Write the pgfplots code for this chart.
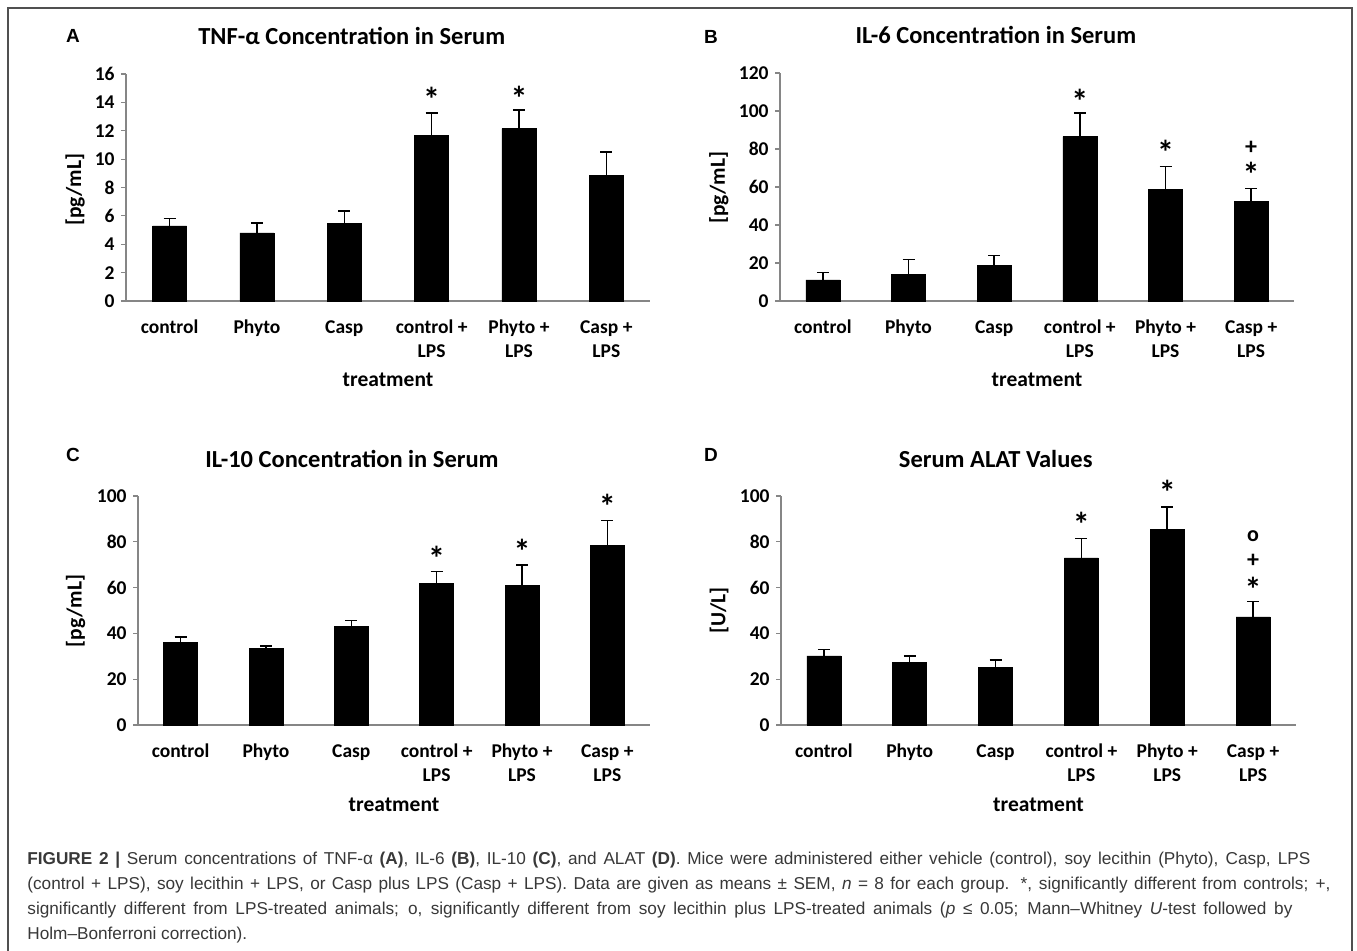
\documentclass[border=0pt]{standalone}
\usepackage{fontspec}
\setmainfont{Carlito}
\newfontfamily\capfont{Liberation Sans}
\usepackage{pgfplots}
\pgfplotsset{compat=1.18}

\definecolor{axisgray}{HTML}{868686}
\definecolor{framegray}{HTML}{505050}
\definecolor{captext}{HTML}{383838}

\newcommand\tickfont{\fontsize{9.75}{12}\selectfont\bfseries}
\newcommand\titlefont{\fontsize{12.25}{14}\selectfont\bfseries}
\newcommand\labfont{\fontsize{10.75}{13}\selectfont\bfseries}
\newcommand\fl{\rule{0pt}{8pt}}

\pgfplotsset{
  panel/.style={
    scale only axis,
    anchor=south west,
    axis lines*=left,
    axis line style={-, draw=axisgray, line width=0.6pt},
    xmin=-0.5, xmax=5.5, ymin=0,
    clip=false,
    xtick={0,...,5},
    xticklabels={\fl control, \fl Phyto, \fl Casp, {\fl control +\\LPS}, {\fl Phyto +\\LPS}, {\fl Casp +\\LPS}},
    tick align=outside,
    major tick length=2.5pt,
    xtick style={draw=none},
    ytick style={draw=axisgray, line width=0.6pt},
    xticklabel style={align=center, anchor=north, inner sep=0pt, yshift=-5.5pt, font=\tickfont},
    yticklabel style={anchor=east, inner sep=0pt, xshift=-3pt, font=\tickfont},
    /pgf/number format/assume math mode=true,
    every axis title shift=0pt,
    title style={anchor=center, font=\titlefont},
    xlabel={treatment},
    xlabel style={at={(axis description cs:0.5,-0.347)}, anchor=center, font=\labfont},
    ylabel style={anchor=center, font=\labfont},
  },
  bars/.style={ybar, bar width=17pt, fill=black, draw=black, line width=0.3pt,
    error bars/.cd, y dir=plus, y explicit,
    error bar style={black, line width=0.75pt},
    error mark options={rotate=90, black, line width=0.75pt, mark size=3pt}},
  marks/.style={draw=none, mark=none, nodes near coords, point meta=explicit symbolic,
    nodes near coords style={anchor=center, inner sep=0pt, text=black}},
  stars/.style={marks, nodes near coords style={yshift=-3.3pt, font=\fontsize{17}{17}\selectfont\bfseries}},
  pluses/.style={marks, nodes near coords style={yshift=-1.15pt, font=\fontsize{12}{12}\selectfont\bfseries}},
  rings/.style={marks, nodes near coords style={font=\fontsize{11}{11}\selectfont\bfseries}},
}

\begin{document}
\begin{tikzpicture}
\useasboundingbox (0,0) rectangle (678.5pt,-475.5pt);
\fill[white] (0,0) rectangle (678.5pt,-475.5pt);
\draw[framegray, line width=0.75pt] (4pt,-475.5pt) |- (676pt,-4pt) -- (676pt,-475.5pt);

% panel letters
\begin{scope}[every node/.style={font=\capfont\fontsize{9.5}{11}\selectfont\bfseries}]
\node at (36.5pt,-18pt) {A};
\node at (355.5pt,-18.5pt) {B};
\node at (36.5pt,-227.5pt) {C};
\node at (355.5pt,-227.5pt) {D};
\end{scope}

% A: TNF-alpha
\begin{axis}[panel, at={(63pt,-150.5pt)}, width=262pt, height=113.5pt,
  ymax=16, ytick={0,2,...,16},
  title={TNF-α Concentration in Serum},
  title style={at={(axis description cs:0.431,1.167)}},
  ylabel={[pg/mL]},
  ylabel style={at={(axis description cs:-0.0973,0.49)}}]
\addplot[bars] table[x=x, y=y, y error=e] {
x y e
0 5.30 0.50
1 4.80 0.70
2 5.45 0.90
3 11.70 1.55
4 12.15 1.30
5 8.85 1.65
};
\addplot[stars] coordinates {(3,14.7)[*] (4,14.75)[*]};
\end{axis}

% B: IL-6
\begin{axis}[panel, at={(390pt,-150.5pt)}, width=257pt, height=114pt,
  ymax=120, ytick={0,20,...,120},
  title={IL-6 Concentration in Serum},
  title style={at={(axis description cs:0.420,1.167)}},
  ylabel={[pg/mL]},
  ylabel style={at={(axis description cs:-0.119,0.497)}}]
\addplot[bars] table[x=x, y=y, y error=e] {
x y e
0 11.1 4.0
1 13.9 8.0
2 18.6 5.4
3 86.5 12.4
4 58.8 12.1
5 52.6 6.7
};
\addplot[stars] coordinates {(3,108.4)[*] (4,81.6)[*] (5,70.0)[*]};
\addplot[pluses] coordinates {(5,81.6)[+]};
\end{axis}

% C: IL-10
\begin{axis}[panel, at={(69pt,-362.5pt)}, width=256pt, height=114.5pt,
  ymax=100, ytick={0,20,...,100},
  title={IL-10 Concentration in Serum},
  title style={at={(axis description cs:0.418,1.162)}},
  ylabel={[pg/mL]},
  ylabel style={at={(axis description cs:-0.122,0.498)}}]
\addplot[bars] table[x=x, y=y, y error=e] {
x y e
0 36.1 2.3
1 33.3 1.1
2 43.1 2.6
3 61.9 5.1
4 60.8 9.1
5 78.5 10.9
};
\addplot[stars] coordinates {(3,75.5)[*] (4,78.6)[*] (5,98.3)[*]};
\end{axis}

% D: ALAT
\begin{axis}[panel, at={(390.5pt,-362.5pt)}, width=257.5pt, height=114.5pt,
  ymax=100, ytick={0,20,...,100},
  title={Serum ALAT Values},
  title style={at={(axis description cs:0.417,1.162)}},
  ylabel={[U/L]},
  ylabel style={at={(axis description cs:-0.120,0.5)}}]
\addplot[bars] table[x=x, y=y, y error=e] {
x y e
0 30.2 2.7
1 27.3 2.9
2 25.1 3.3
3 73.0 8.4
4 85.5 9.6
5 47.2 6.8
};
\addplot[stars] coordinates {(3,90.4)[*] (4,104.4)[*] (5,62.0)[*]};
\addplot[pluses] coordinates {(5,72.5)[+]};
\addplot[rings] coordinates {(5,82.5)[o]};
\end{axis}

% caption
\begin{scope}[every node/.style={anchor=base west, inner sep=0pt, text=captext, font=\capfont\fontsize{8.6}{10}\selectfont}]
\node at (13.5pt,-432.5pt) {\makebox[641.5pt][s]{\textbf{FIGURE 2 |} Serum concentrations of TNF-α \textbf{(A)}, IL-6 \textbf{(B)}, IL-10 \textbf{(C)}, and ALAT \textbf{(D)}. Mice were administered either vehicle (control), soy lecithin (Phyto), Casp, LPS}};
\node at (13.5pt,-445pt) {\makebox[651.5pt][s]{(control + LPS), soy lecithin + LPS, or Casp plus LPS (Casp + LPS). Data are given as means ± SEM, \textit{n} = 8 for each group. *, significantly different from controls; +,}};
\node at (13.5pt,-457.5pt) {\makebox[632.5pt][s]{significantly different from LPS-treated animals; o, significantly different from soy lecithin plus LPS-treated animals (\textit{p} ≤ 0.05; Mann–Whitney \textit{U}-test followed by}};
\node at (13.5pt,-470pt) {Holm–Bonferroni correction).};
\end{scope}
\end{tikzpicture}
\end{document}
